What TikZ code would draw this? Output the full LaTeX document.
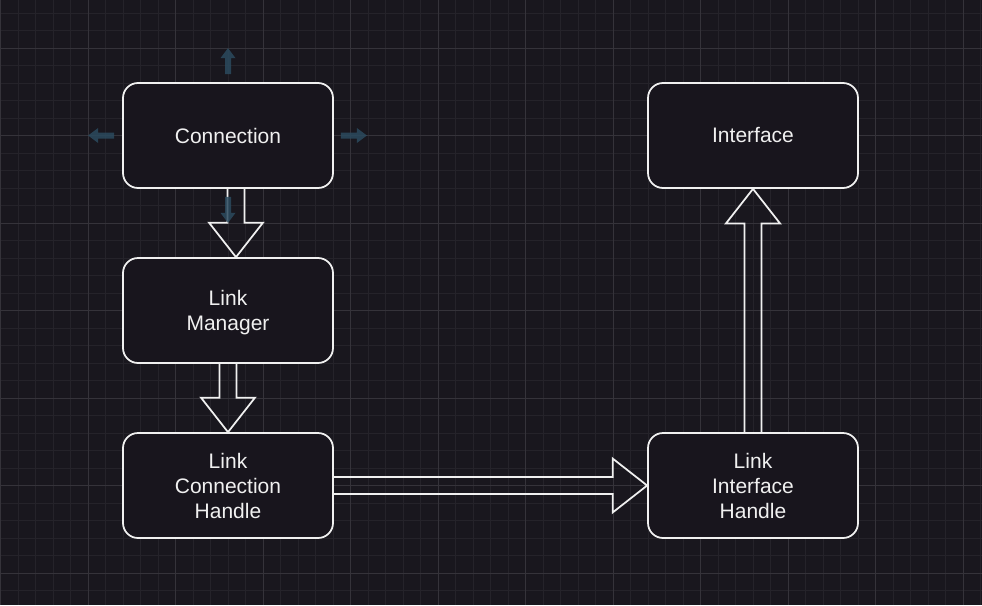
\documentclass[tikz,border=0pt]{standalone}
\usepackage{fontspec}
\setmainfont{Liberation Sans}
\usetikzlibrary{calc}
\definecolor{bgc}{HTML}{19171E}
\definecolor{boxfill}{HTML}{18151D}
\definecolor{gridminor}{HTML}{25232A}
\definecolor{gridmajor}{HTML}{35333A}
\definecolor{fg}{HTML}{F0F0F0}
\definecolor{hover}{HTML}{2B4A5E}
\tikzset{
  box/.style={draw=fg, line width=1.75pt, fill=boxfill, rounded corners=15pt,
    minimum width=210pt, minimum height=105pt, inner sep=0pt, text=fg,
    align=center, font=\fontsize{21}{25}\selectfont},
  blk/.style={draw=fg, line width=1.75pt, line join=miter},
  hov/.style={fill=hover, draw=none, opacity=0.85},
}
\begin{document}
\begin{tikzpicture}[x=1pt,y=-1pt]
\fill[bgc] (0,0) rectangle (982,605);
\useasboundingbox (0,0) rectangle (982,605);
% grid
\foreach \k in {0,...,56} {
  \draw[gridminor, line width=1pt] ({0.8+17.5*\k},0) -- ({0.8+17.5*\k},605);
}
\foreach \k in {0,...,35} {
  \draw[gridminor, line width=1pt] (0,{13.3+17.5*\k}) -- (982,{13.3+17.5*\k});
}
\foreach \k in {0,...,11} {
  \draw[gridmajor, line width=1pt] ({0.8+87.5*\k},0) -- ({0.8+87.5*\k},605);
}
\foreach \k in {-1,...,6} {
  \draw[gridmajor, line width=1pt] (0,{48.3+87.5*\k}) -- (982,{48.3+87.5*\k});
}
% boxes
\node[box] (conn)  at (228,135.5) {Connection};
\node[box, text depth=0pt] (lm) at (228,310.5) {Link\\Manager};
\node[box] (lch)   at (228,485.5) {Link\\Connection\\Handle};
\node[box] (iface) at (753,135.5) {Interface};
\node[box] (lih)   at (753,485.5) {Link\\Interface\\Handle};
% block arrows
% Connection -> Link Manager (centre offset +8)
\draw[blk] ($(conn.south)+(-0.5,0)$) -- ($(lm.north)+(-0.5,-34.5)$)
  -- ($(lm.north)+(-19,-34.5)$) -- ($(lm.north)+(8,0)$)
  -- ($(lm.north)+(35,-34.5)$) -- ($(lm.north)+(16.5,-34.5)$)
  -- ($(conn.south)+(16.5,0)$);
% Link Manager -> Link Connection Handle
\draw[blk] ($(lm.south)+(-8.5,0)$) -- ($(lch.north)+(-8.5,-34.5)$)
  -- ($(lch.north)+(-27,-34.5)$) -- (lch.north)
  -- ($(lch.north)+(27,-34.5)$) -- ($(lch.north)+(8.5,-34.5)$)
  -- ($(lm.south)+(8.5,0)$);
% Link Connection Handle -> Link Interface Handle
\draw[blk] ($(lch.east)+(0,-8.5)$) -- ($(lih.west)+(-34.5,-8.5)$)
  -- ($(lih.west)+(-34.5,-27)$) -- (lih.west)
  -- ($(lih.west)+(-34.5,27)$) -- ($(lih.west)+(-34.5,8.5)$)
  -- ($(lch.east)+(0,8.5)$);
% Link Interface Handle -> Interface
\draw[blk] ($(lih.north)+(-8.5,0)$) -- ($(iface.south)+(-8.5,34.5)$)
  -- ($(iface.south)+(-27,34.5)$) -- (iface.south)
  -- ($(iface.south)+(27,34.5)$) -- ($(iface.south)+(8.5,34.5)$)
  -- ($(lih.north)+(8.5,0)$);
% hover hint arrows around Connection
% up
\fill[hov] ($(conn.north)+(-3,-8)$) -- ($(conn.north)+(-3,-24)$) -- ($(conn.north)+(-7.5,-24)$)
  -- ($(conn.north)+(0,-34)$) -- ($(conn.north)+(7.5,-24)$) -- ($(conn.north)+(3,-24)$)
  -- ($(conn.north)+(3,-8)$) -- cycle;
% down
\fill[hov] ($(conn.south)+(-3,8)$) -- ($(conn.south)+(-3,24)$) -- ($(conn.south)+(-7.5,24)$)
  -- ($(conn.south)+(0,34)$) -- ($(conn.south)+(7.5,24)$) -- ($(conn.south)+(3,24)$)
  -- ($(conn.south)+(3,8)$) -- cycle;
% left
\fill[hov] ($(conn.west)+(-8,-3)$) -- ($(conn.west)+(-24,-3)$) -- ($(conn.west)+(-24,-7.5)$)
  -- ($(conn.west)+(-34,0)$) -- ($(conn.west)+(-24,7.5)$) -- ($(conn.west)+(-24,3)$)
  -- ($(conn.west)+(-8,3)$) -- cycle;
% right
\fill[hov] ($(conn.east)+(7,-3)$) -- ($(conn.east)+(23,-3)$) -- ($(conn.east)+(23,-7.5)$)
  -- ($(conn.east)+(33,0)$) -- ($(conn.east)+(23,7.5)$) -- ($(conn.east)+(23,3)$)
  -- ($(conn.east)+(7,3)$) -- cycle;
\end{tikzpicture}
\end{document}
